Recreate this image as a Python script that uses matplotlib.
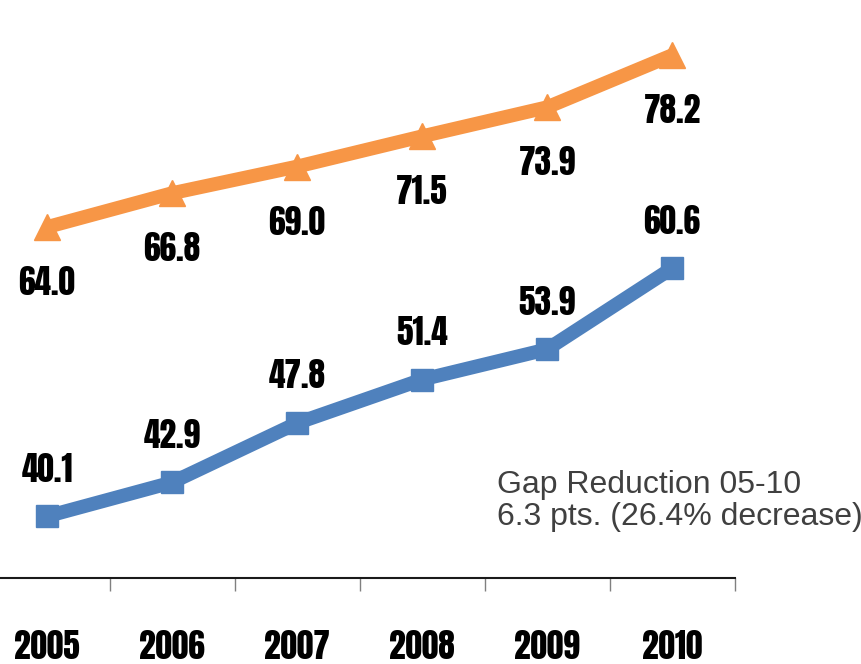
import matplotlib
matplotlib.use("Agg")
import matplotlib.pyplot as plt

years = ["2005", "2006", "2007", "2008", "2009", "2010"]
upper = [64.0, 66.8, 69.0, 71.5, 73.9, 78.2]
lower = [40.1, 42.9, 47.8, 51.4, 53.9, 60.6]
note = "Gap Reduction 05-10\n6.3 pts. (26.4% decrease)"

ORANGE = "#F79646"
BLUE = "#4F81BD"
NARROW = ["Anton", "Oswald", "DejaVu Sans"]

W, H = 862, 664
fig = plt.figure(figsize=(W / 100, H / 100), dpi=100)
# x runs -0.5..5.5, left part of the axes falls off the figure
left_px, right_px = -15.5, 734.5
bottom_px, top_px = 578, 33.5
ax = fig.add_axes([left_px / W, (H - bottom_px) / H,
                   (right_px - left_px) / W, (bottom_px - top_px) / H])

x = list(range(len(years)))
ax.plot(x, upper, color=ORANGE, lw=10, marker="^", ms=19,
        solid_capstyle="butt", clip_on=False, zorder=3)
ax.plot(x, lower, color=BLUE, lw=10, marker="s", ms=16,
        solid_capstyle="butt", clip_on=False, zorder=3)

lab = dict(fontfamily=NARROW, fontsize=24, ha="center", va="center", color="black")
for xi, v in zip(x, upper):
    ax.annotate(f"{v:.1f}", (xi, v), xytext=(0, -40), textcoords="offset points", **lab)
for xi, v in zip(x, lower):
    ax.annotate(f"{v:.1f}", (xi, v), xytext=(0, 34), textcoords="offset points", **lab)

ax.set_xlim(-0.5, 5.5)
ax.set_ylim(35, 80)
ax.set_yticks([])
for s in ["left", "right", "top"]:
    ax.spines[s].set_visible(False)
ax.spines["bottom"].set_linewidth(1.5)
ax.spines["bottom"].set_color("#1a1a1a")

ax.set_xticks([i + 0.5 for i in range(-1, len(years))])
ax.set_xticklabels([])
ax.tick_params(axis="x", direction="out", length=9, width=1, color="#808080")
for xi, y in zip(x, years):
    ax.annotate(y, (xi, 35), xytext=(0, -49), textcoords="offset points", **lab)

fig.text(497 / W, 1 - 501 / H, note, fontfamily="Liberation Sans", fontsize=23,
         color="#404040", ha="left", va="center", linespacing=1.1)

fig.savefig("out.png", dpi=100)
